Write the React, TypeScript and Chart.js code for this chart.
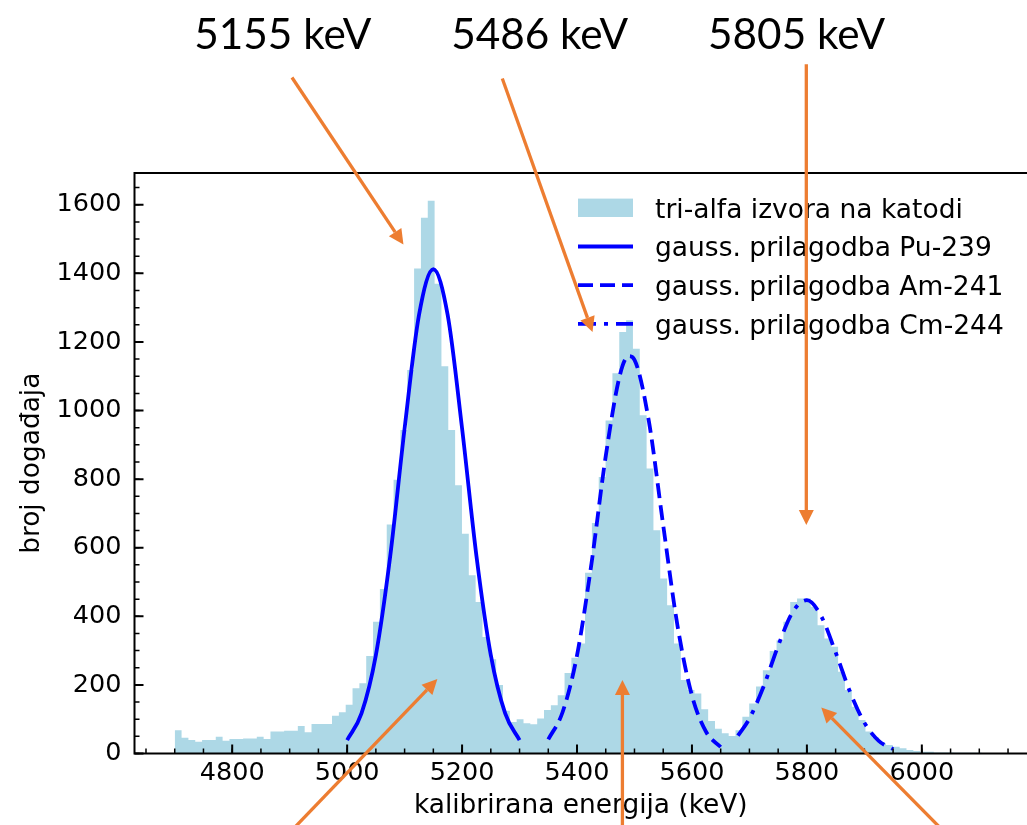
import { useEffect, useRef } from 'react';
import { Chart, registerables } from 'chart.js';

Chart.register(...registerables);

// Histogram of calibrated energies: 120 bins of 11.9 keV starting at 4700 keV
const BIN_START = 4700;
const BIN_WIDTH = 11.9;
const COUNTS = [
  68, 46, 39, 34, 39, 39, 49, 37, 42, 42,
  44, 44, 49, 42, 64, 64, 66, 66, 80, 62,
  86, 86, 86, 110, 120, 142, 190, 205, 284, 384,
  480, 668, 798, 943, 1118, 1414, 1562, 1612, 1370, 1129,
  943, 782, 641, 520, 442, 340, 275, 200, 125, 92,
  100, 88, 85, 102, 127, 141, 170, 235, 279, 321,
  527, 672, 806, 971, 1109, 1229, 1263, 1180, 986, 831,
  651, 510, 432, 321, 214, 185, 175, 129, 95, 72,
  59, 51, 68, 107, 146, 195, 243, 299, 330, 384,
  442, 452, 452, 428, 374, 335, 311, 238, 185, 136,
  98, 64, 47, 30, 25, 20, 15, 10, 7, 5,
  5, 3, 3, 3, 2, 2, 2, 2, 1, 1,
];

// Gaussian fit curves (energy in keV, counts)
const PU_X = [5000, 5025, 5050, 5075, 5100, 5125, 5150, 5175, 5200, 5225, 5250, 5275, 5300];
const PU_Y = [39, 117, 287, 576, 948, 1278, 1412, 1278, 948, 576, 287, 117, 39];
const AM_X = [5350, 5375, 5400, 5425, 5450, 5475, 5490, 5500, 5525, 5550, 5575, 5600, 5625, 5650];
const AM_Y = [41, 121, 286, 552, 867, 1106, 1159, 1148, 969, 665, 371, 169, 62, 19];
const CM_X = [5680, 5700, 5725, 5750, 5775, 5800, 5825, 5850, 5875, 5900, 5925, 5950];
const CM_Y = [52, 102, 197, 314, 412, 447, 400, 295, 180, 90, 37, 13];

// Axis ranges and ticks
const X_MIN = 4630;
const X_MAX = 6183;
const X_STEP = 200;
const Y_STEP = 200;
const MINOR_STEP = 50;

const LABEL_HIST = 'tri-alfa izvora na katodi';
const LABEL_PU = 'gauss. prilagodba Pu-239';
const LABEL_AM = 'gauss. prilagodba Am-241';
const LABEL_CM = 'gauss. prilagodba Cm-244';
const X_TITLE = 'kalibrirana energija (keV)';
const Y_TITLE = 'broj događaja';

// Peak energy callouts: label text and its centre (keV, counts)
const PEAK_LABELS = ['5155 keV', '5486 keV', '5805 keV'];
const PEAK_LABEL_X = [4888, 5335, 5782];
const PEAK_LABEL_Y = 2054;

// Callout arrows in data units: [x from, y from, x to, y to]
const ARROWS = [
  [4904, 1971, 5098, 1484],
  [5270, 1968, 5427, 1229],
  [5799, 2010, 5799, 666],
  [4909, -215, 5157, 217],
  [5479, -215, 5479, 214],
  [6031, -215, 5825, 134],
];

const HIST_COLOR = '#ADD8E6';
const FIT_COLOR = '#0000FF';
const ARROW_COLOR = '#ED7D31';
const FONT = 'DejaVu Sans';

function drawArrow(ctx: CanvasRenderingContext2D, x1: number, y1: number, x2: number, y2: number) {
  const ang = Math.atan2(y2 - y1, x2 - x1);
  const hl = 15;
  const hw = 7.5;
  const bx = x2 - hl * Math.cos(ang);
  const by = y2 - hl * Math.sin(ang);
  ctx.beginPath();
  ctx.moveTo(x1, y1);
  ctx.lineTo(bx, by);
  ctx.stroke();
  ctx.beginPath();
  ctx.moveTo(x2, y2);
  ctx.lineTo(bx + hw * Math.sin(ang), by - hw * Math.cos(ang));
  ctx.lineTo(bx - hw * Math.sin(ang), by + hw * Math.cos(ang));
  ctx.closePath();
  ctx.fill();
}

const framePlugin = {
  id: 'frame',
  afterDatasetsDraw(chart: any) {
    const { ctx, chartArea: a, scales } = chart;
    const xs = scales.x;
    const ys = scales.y;
    ctx.save();
    ctx.strokeStyle = '#000';
    ctx.lineCap = 'butt';
    // minor ticks (inward)
    ctx.lineWidth = 1.5;
    ctx.beginPath();
    for (let v = Math.ceil(xs.min / MINOR_STEP) * MINOR_STEP; v <= xs.max; v += MINOR_STEP) {
      const px = xs.getPixelForValue(v);
      ctx.moveTo(px, a.bottom);
      ctx.lineTo(px, a.bottom - 5);
    }
    for (let v = 0; v <= ys.max; v += MINOR_STEP) {
      const py = ys.getPixelForValue(v);
      ctx.moveTo(a.left, py);
      ctx.lineTo(a.left + 5, py);
    }
    ctx.stroke();
    // major ticks (inward)
    ctx.lineWidth = 2;
    ctx.beginPath();
    xs.ticks.forEach((t: any) => {
      const px = xs.getPixelForValue(t.value);
      ctx.moveTo(px, a.bottom);
      ctx.lineTo(px, a.bottom - 9);
    });
    ys.ticks.forEach((t: any) => {
      const py = ys.getPixelForValue(t.value);
      ctx.moveTo(a.left, py);
      ctx.lineTo(a.left + 9, py);
    });
    ctx.stroke();
    // spines
    ctx.lineWidth = 2;
    ctx.beginPath();
    ctx.moveTo(a.left, a.top - 1);
    ctx.lineTo(a.left, a.bottom + 1);
    ctx.moveTo(a.left - 1, a.bottom);
    ctx.lineTo(a.right, a.bottom);
    ctx.moveTo(a.left - 1, a.top);
    ctx.lineTo(a.right, a.top);
    ctx.stroke();
    ctx.restore();
  },
  afterDraw(chart: any) {
    const { ctx, chartArea: a, scales } = chart;
    const xs = scales.x;
    const ys = scales.y;
    const ds = chart.data.datasets;
    ctx.save();

    // axis titles
    ctx.fillStyle = '#000';
    ctx.font = `26.4px "${FONT}"`;
    ctx.textAlign = 'center';
    ctx.textBaseline = 'alphabetic';
    ctx.fillText(X_TITLE, (a.left + a.right) / 2, 813);
    ctx.save();
    ctx.translate(39, (a.top + a.bottom) / 2);
    ctx.rotate(-Math.PI / 2);
    ctx.fillText(Y_TITLE, 0, 0);
    ctx.restore();

    // legend (upper right, inside the axes)
    const hx0 = 578;
    const hx1 = 633;
    const tx = 655;
    const base0 = 217.5;
    const rowH = 38.7;
    const order = [3, 0, 1, 2];
    ctx.font = `26.5px "${FONT}"`;
    ctx.textAlign = 'left';
    order.forEach((di, row) => {
      const d = ds[di];
      const baseY = base0 + row * rowH;
      const cy = baseY - 9.7;
      if (di === 3) {
        ctx.fillStyle = d.backgroundColor;
        ctx.fillRect(hx0, cy - 9.2, hx1 - hx0, 18.4);
      } else {
        ctx.strokeStyle = d.borderColor;
        ctx.lineWidth = d.borderWidth;
        ctx.lineCap = 'butt';
        ctx.setLineDash(d.borderDash || []);
        ctx.beginPath();
        ctx.moveTo(hx0, cy);
        ctx.lineTo(hx1, cy);
        ctx.stroke();
        ctx.setLineDash([]);
      }
      ctx.fillStyle = '#000';
      ctx.fillText(d.label, tx, baseY);
    });

    // peak energy callouts
    ctx.fillStyle = '#000';
    ctx.textAlign = 'center';
    ctx.textBaseline = 'alphabetic';
    PEAK_LABELS.forEach((txt, i) => {
      ctx.font = '100px Lato';
      const w = ctx.measureText(txt).width;
      const size = (100 * 177) / w;
      ctx.font = `${size.toFixed(2)}px Lato`;
      ctx.fillText(txt, xs.getPixelForValue(PEAK_LABEL_X[i]), ys.getPixelForValue(PEAK_LABEL_Y));
    });

    ctx.strokeStyle = ARROW_COLOR;
    ctx.fillStyle = ARROW_COLOR;
    ctx.lineWidth = 3.3;
    ctx.lineCap = 'butt';
    ARROWS.forEach(([xa, ya, xb, yb]) => {
      drawArrow(
        ctx,
        xs.getPixelForValue(xa),
        ys.getPixelForValue(ya),
        xs.getPixelForValue(xb),
        ys.getPixelForValue(yb),
      );
    });
    ctx.restore();
  },
};

export default function App() {
  const ref = useRef<HTMLCanvasElement>(null);

  useEffect(() => {
    document.body.style.margin = '0';
    document.body.style.overflow = 'hidden';
    const canvas = ref.current;
    if (!canvas) return;

    const histPoints = COUNTS.map((c, i) => ({ x: BIN_START + i * BIN_WIDTH, y: c }));
    histPoints.push({ x: BIN_START + COUNTS.length * BIN_WIDTH, y: COUNTS[COUNTS.length - 1] });
    const toPoints = (xsArr: number[], ysArr: number[]) => xsArr.map((x, i) => ({ x, y: ysArr[i] }));
    const yMax = Math.max(...COUNTS) * 1.05;

    const fitStyle = {
      borderColor: FIT_COLOR,
      borderWidth: 3.8,
      borderCapStyle: 'butt' as const,
      pointRadius: 0,
      fill: false,
      cubicInterpolationMode: 'monotone' as const,
      order: 0,
    };

    const chart = new Chart(canvas, {
      type: 'line',
      data: {
        datasets: [
          { ...fitStyle, label: LABEL_PU, data: toPoints(PU_X, PU_Y) },
          { ...fitStyle, label: LABEL_AM, data: toPoints(AM_X, AM_Y), borderDash: [15, 7] },
          { ...fitStyle, label: LABEL_CM, data: toPoints(CM_X, CM_Y), borderDash: [18, 8, 4, 8] },
          {
            label: LABEL_HIST,
            data: histPoints,
            stepped: true,
            fill: 'origin',
            backgroundColor: HIST_COLOR,
            borderColor: 'rgba(0,0,0,0)',
            borderWidth: 0,
            pointRadius: 0,
            order: 10,
          } as any,
        ],
      },
      options: {
        animation: false,
        responsive: false,
        devicePixelRatio: 1,
        layout: { padding: { top: 173, left: 0, right: 0, bottom: 0 } },
        plugins: { legend: { display: false }, tooltip: { enabled: false } },
        scales: {
          x: {
            type: 'linear',
            min: X_MIN,
            max: X_MAX,
            grid: { display: false, drawTicks: false },
            border: { display: false },
            ticks: {
              stepSize: X_STEP,
              includeBounds: false,
              autoSkip: false,
              maxRotation: 0,
              padding: 5,
              color: '#000',
              font: { family: FONT, size: 25.5 },
              callback: (v: any) => String(v),
            },
            afterFit: (s: any) => {
              s.height = 71.5;
            },
          },
          y: {
            type: 'linear',
            min: 0,
            max: yMax,
            grid: { display: false, drawTicks: false },
            border: { display: false },
            ticks: {
              stepSize: Y_STEP,
              includeBounds: false,
              autoSkip: false,
              padding: 13,
              color: '#000',
              font: { family: FONT, size: 25.5 },
              callback: (v: any) => String(v),
            },
            afterFit: (s: any) => {
              s.width = 134.5;
            },
          },
        },
      },
      plugins: [framePlugin],
    });

    return () => chart.destroy();
  }, []);

  return (
    <div style={{ width: 1027, height: 825, position: 'relative', background: '#fff' }}>
      <canvas ref={ref} width={1027} height={825} />
    </div>
  );
}
